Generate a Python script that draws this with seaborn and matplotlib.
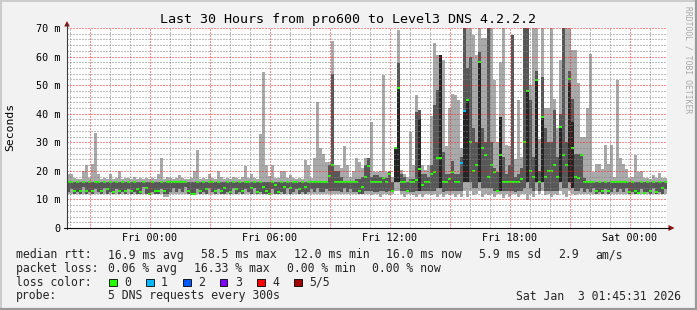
import numpy as np
import pandas as pd
import matplotlib
matplotlib.use("Agg")
import matplotlib.pyplot as plt
import seaborn as sns
from matplotlib.lines import Line2D
from matplotlib.patches import Rectangle, Polygon
from matplotlib.ticker import FixedLocator, MultipleLocator

# ---------------- data (ms), one sample per 9 minutes, starting Thu 19:51 ----------------
start_hours = -4.15      # hours relative to Fri 00:00
step_hours = 0.15

lo = [
12,12,12,12,12,12,12,12,12,12,
12,12,12,12,12,12,12,12,12,12,
12,12,12,12,12,12,12,11.5,12,12,
12,12,11,11,12,12,12,12,12,12,
12,12,12,12,12,12,12,12,12,12,
12,12,12,12,12,12,12,12,12,12,
12,12,12,12,12,12,12,12,12,12,
12,12,12,12,12,12,12,12,12,12,
12,12,12,12,12,12,12,12,12,12,
12,12,12,12,12,12,12,12,12,12,
12,11.5,12,12,11,12,12,11.5,12,13,
13,12,11,12,12,11.5,11,12,11,12,
12,11.5,12,11,12,11,12,11.5,12,11,
12,11,13,10.7,13,11.5,12,13,11,12,
11.5,12,11,12,12,10.5,12,11,12,12,
11,12,12,9.8,12,11,13,12,13,11.5,
12,11,12,11.5,13,12,11,13,12,11.5,
12,12,12,12,12,12,12,12,12,12,
12,12,12,12,12,12,12,12,12,12,
12,12,12,12,12,12,12,12,12,12,
]
q1 = [
12.7,13.5,12,12.7,12,14.5,12,12.7,12,13.5,
12.7,12,14,12,12.7,12,13.5,12,12.7,12,
13.5,12,12.7,12,12,14.5,12,12,12.7,12,
12,13.5,12,12,12.7,14,12.7,13.5,12.7,14.5,
12,12,12,13.5,12,12.7,12,14,12.7,12,
13.5,12,12,12.7,12,14,12,12.7,12,13.5,
12.7,12,14,12,12.7,12,12,12,13.5,12,
12,12.7,12,14,12,12.7,13.5,12,12.7,12,
12.7,13.5,12.7,14,12.7,12.7,13.5,13,13,13,
13,12.7,14,12.7,13.5,12.7,12.7,12,12,13,
13,13,12.7,12.7,13,13,12.7,13,12.7,16,
16,13,13,12.7,12.7,12.7,13,13,13,13,
13,13,13,14,14,12.7,13,13,13,13,
13,13,16,16,16,14,14,16,14,14,
14,14,13,12.7,13,13,13,13,13,12.7,
13,13,14,16,14,13,16,13,16,13,
13,13,13,13,16,14,14,16,14,13,
13,14,12.7,13.5,12.7,14,12,12.7,12,13.5,
12,12.7,14,12.7,13.5,12.7,14,12,12.7,12,
12,13.5,12,12.7,12,14,12,12.7,12,13.5,
]
med = [
16,16,13,16,13,16,13,16,13,16,
16,13,16,13.5,16,12.5,16,13,16,13,
16,13,16,13.5,12.5,16,14,12,16,13,
13,16,13,16,16,16,16,16,16,16,
13,12,12,16,13,16,13.5,16,16,13,
16,13,14,16,12.5,16,13.5,16,13,16,
16,14,16,12.5,16,14.5,13,12,16,15,
12.7,16,14.5,16,14,16,16,13.5,16,14.5,
16,16,16,16,16,16,16,18.3,22,16,
16,16,16,16,16,16,16,13,14.5,18,
21.6,16,16,16,16,17.5,16,18.9,13,27.9,
48.9,16,16,13,16,16,16.8,20.6,15,16,
16,19,19.7,24.4,24.4,16,16,17,19.7,16,
16,22.9,41,44.8,30,20,22,58.2,27.9,25.5,
18,22,19.7,13,25.5,16,16,16,16,16,
16,17,30,48,20,18,51.8,16,39,18,
20,20,22,18,35.5,25.5,22,52,27.9,18,
17.5,25.5,16,16,16,16,13,16,13,16,
13,16,16,16,16,16,16,12.5,16,13,
12.3,16,12.3,16,13,16,12.7,16,14,16,
]
q3 = [
16,16,16,16,16,16,16,16,16,16,
16,16,16,16,16,16,16,16,16,16,
16,16,16,16,16,16,16,16,16,16,
16,16,16,16,16,16,16,16,16,16,
16,16,16,16,16,16,16,16,16,16,
16,16,16,16,16,16,16,16,16,16,
16,16,16,16,16,16,16,16,16,16,
16,16,16,16,16,16,16,16,16,16,
16,16,16,16,16,16,16,22,54,20,
20,18,16,16,16,16,17,17,18,22,
24.6,18,18.5,18.5,18,18,17.5,19.7,16,28.5,
57.6,19,18,16,17,17,40.5,41.3,19,19,
18,22,43,48.3,60.5,26.7,19,19,23.3,19,
19,25,75,56,60,35,30,61.7,35,30,
75,30,21,19.7,39,25,19,22,67.5,18,
19,21,75,75,44.8,25,55,20,53,35,
30,30,41.3,25,40,75,30,55,45,26,
26,26,17.5,16,16,16,16,16,16,16,
16,16,16,16,16,16,16,16,16,16,
16,16,16,16,16,16,16,16,16,16,
]
hi = [
19,19,17.5,17,17,20,22,17.5,22.5,33.4,
19,17,17.5,17,19,17,17.5,20,17,17.5,
17.5,17,18,17,17.5,17,17.5,17,17.5,17,
19,24.4,17,18,17.5,17,17.5,18.5,17.5,17,
17,17.5,20,27.3,17,17.5,17,19,17.5,17,
20,18,17,17.5,17,18,17.5,17,18,21.8,
17.5,19,17.5,17,33,54.7,22,18.3,22,17.5,
17.5,20,20,17.5,18.5,17.5,17,17.5,17,23.8,
22,17.5,24.4,44,27.9,26,23,23,65.5,22,
22,21,28.8,22,18,20,24.6,23,21,24.6,
24.6,37,19.7,19.7,20,53.5,19.7,20,18,28.5,
69.3,20.4,19,18,33.5,22,46.5,41.3,22,20.4,
22,39.3,64.6,60.5,60.5,58.8,28.8,41.9,47,46.5,
44.8,28,75,75,70.5,67.5,60.6,75,66.4,66.4,
75,70,51.8,30,58,75,29,28.6,67.5,24,
44.8,25,75,75,50,75,75,31,75,41.9,
42,75,45,35,58.8,75,75,75,62.3,62.3,
50.8,32,32,41.9,60.8,19.7,22.3,22.3,20.8,29,
22.3,29,18,51.8,24.4,22.3,20.8,17.5,18,25.5,
19.7,20,17.5,17.5,17,18.5,17.5,19.2,17.5,17.5,
]
# darkest core of the smoke (from 2nd ping up to this value) for a few samples
core_idx = [109, 110, 117, 124, 132, 133, 137, 144, 153, 156, 158, 164, 167, 168]
core_top = [27.9, 48.9, 38, 60.5, 41, 44.8, 58.2, 39, 48, 51.8, 39, 35.5, 50.6, 37.2]
# samples with packet loss (count of lost pings)
loss_idx = [131, 132]
loss_val = [1, 1]

xtick_hours = [0, 6, 12, 18, 24]
xtick_labels = ["Fri 00:00", "Fri 06:00", "Fri 12:00", "Fri 18:00", "Sat 00:00"]
ytick_vals = [0, 10, 20, 30, 40, 50, 60, 70]
ytick_labels = ["0", "10 m", "20 m", "30 m", "40 m", "50 m", "60 m", "70 m"]

loss_names = ["0", "1", "2", "3", "4", "5/5"]
loss_colors = ["#26ff00", "#00b8ff", "#0059ff", "#7e00ff", "#ff0000", "#a10000"]

title = "Last 30 Hours from pro600 to Level3 DNS 4.2.2.2"
stats_rtt = ["median rtt:", "16.9 ms avg", "58.5 ms max", "12.0 ms min", "16.0 ms now",
             "5.9 ms sd", "2.9", "am/s"]
stats_loss = ["packet loss:", "0.06 % avg", "16.33 % max", "0.00 % min", "0.00 % now"]
probe_text = ["probe:", "5 DNS requests every 300s"]
stamp = "Sat Jan  3 01:45:31 2026"

for name, arr in [("lo", lo), ("q1", q1), ("med", med), ("q3", q3), ("hi", hi)]:
    if len(arr) != 200:
        raise SystemExit(f"{name} has {len(arr)}")

# ---------------- figure ----------------
W, H = 697, 310
sns.set_theme(style="white")
plt.rcParams["font.family"] = ["DejaVu Sans Mono", "DejaVu Sans"]
plt.rcParams["lines.scale_dashes"] = True

fig = plt.figure(figsize=(W / 100, H / 100), dpi=100, facecolor="#f2f2f2")

def fx(px):
    return px / W

def fy(py):
    return 1 - py / H

ax = fig.add_axes([fx(67), fy(228), 600 / W, 200 / H])
ax.set_facecolor("white")

n = len(med)
edges = start_hours + step_hours * np.arange(n + 1)
centers = edges[:-1] + step_hours / 2

def ext(a):
    a = np.asarray(a, float)
    return np.append(a, a[-1])

ax.fill_between(edges, ext(lo), ext(hi), step="post", color="#a9a9a9",
                linewidth=0, antialiased=False, zorder=1)
ax.fill_between(edges, ext(q1), ext(q3), step="post", color="#575757",
                linewidth=0, antialiased=False, zorder=1.1)
q1a = np.asarray(q1, float)
ct = np.asarray(core_top, float)
ax.bar(edges[core_idx], ct - q1a[core_idx], bottom=q1a[core_idx], width=step_hours,
       align="edge", color="#252525", linewidth=0, antialiased=False, zorder=1.2)

loss = np.zeros(n, dtype=int)
loss[loss_idx] = loss_val
df = pd.DataFrame({"t": centers, "median": med, "loss": loss})
pal = {i: loss_colors[i] for i in sorted(df["loss"].unique())}
sns.scatterplot(data=df, x="t", y="median", hue="loss", palette=pal, marker="_",
                s=6.2, linewidth=1.5, legend=False, ax=ax, zorder=2)
ax.set_xlabel("")
ax.set_ylabel("")

ax.set_xlim(edges[0], edges[-1])
ax.set_ylim(0, 70)

# grid (drawn over the smoke, semi transparent like rrdtool)
ax.xaxis.set_major_locator(FixedLocator(list(range(-3, 25, 3))))
ax.xaxis.set_minor_locator(MultipleLocator(1))
ax.yaxis.set_major_locator(FixedLocator(ytick_vals))
ax.yaxis.set_minor_locator(MultipleLocator(2))
maj_labels = []
for t in range(-3, 25, 3):
    maj_labels.append(xtick_labels[xtick_hours.index(t)] if t in xtick_hours else "")
ax.set_xticklabels(maj_labels)
ax.set_yticklabels(ytick_labels)
ax.set_axisbelow(False)
ax.grid(which="minor", color=(0.5, 0.5, 0.5, 0.2), linestyle=(0, (1, 2)), linewidth=0.72)
ax.grid(which="major", color=(1.0, 0.1, 0.1, 0.26), linestyle=(0, (1, 2)), linewidth=0.72)
ax.tick_params(axis="both", which="both", length=0, labelsize=7.3, colors="#000000")
ax.tick_params(axis="x", pad=3.6)
ax.tick_params(axis="y", pad=4.8)
for s in ax.spines.values():
    s.set_visible(False)

# axes lines with arrows
axis_col = "#3c3c3c"
arrow_col = "#8b1010"
fig.add_artist(Line2D([fx(67), fx(67)], [fy(229), fy(24)], color=axis_col, lw=0.8))
fig.add_artist(Line2D([fx(64), fx(669)], [fy(228), fy(228)], color="#101010", lw=0.8))
fig.add_artist(Polygon([[fx(67), fy(21)], [fx(64.2), fy(26.5)], [fx(69.8), fy(26.5)]],
                       closed=True, color=arrow_col, lw=0))
fig.add_artist(Polygon([[fx(674.5), fy(228)], [fx(668.5), fy(225)], [fx(668.5), fy(231)]],
                       closed=True, color=arrow_col, lw=0))

# title, y label, watermark
fig.text(fx(347.5), fy(19), title, ha="center", va="center", fontsize=9.6, color="black")
fig.text(fx(10.5), fy(127), "Seconds", ha="center", va="center", rotation=90,
         fontsize=8.2, color="black")
fig.text(fx(688), fy(60), "RRDTOOL / TOBI OETIKER", ha="center", va="center",
         rotation=270, fontsize=5.8, color="#a8a8a8")

# legend / statistics block
fs = 8.3
rtt_x = [16, 108, 200.8, 293.6, 386.4, 479.2, 558, 595]
for s, x in zip(stats_rtt, rtt_x):
    fig.text(fx(x), fy(255), s, ha="left", va="center", fontsize=fs)
loss_x = [16, 108, 193.8, 286.6, 372.4]
for s, x in zip(stats_loss, loss_x):
    fig.text(fx(x), fy(268.5), s, ha="left", va="center", fontsize=fs)
fig.text(fx(16), fy(282), "loss color:", ha="left", va="center", fontsize=fs)
box_x = [109, 146, 183, 220, 257, 294]
for name, col, bx in zip(loss_names, loss_colors, box_x):
    fig.add_artist(Rectangle((fx(bx), fy(286)), 7.5 / W, 7.5 / H, facecolor=col,
                             edgecolor="black", linewidth=0.6))
    fig.text(fx(bx + 15), fy(282), name, ha="left", va="center", fontsize=fs)
fig.text(fx(16), fy(296), probe_text[0], ha="left", va="center", fontsize=fs)
fig.text(fx(108), fy(296), probe_text[1], ha="left", va="center", fontsize=fs)
fig.text(fx(681), fy(296), stamp, ha="right", va="center", fontsize=fs)

# outer frame (rrdtool shade)
fig.add_artist(Line2D([0, 1], [1 - 0.5 / H, 1 - 0.5 / H], color="#cbcbcb", lw=1.4))
fig.add_artist(Line2D([0.5 / W, 0.5 / W], [0, 1], color="#cbcbcb", lw=1.4))
fig.add_artist(Line2D([0, 1], [1 / H, 1 / H], color="#999999", lw=1.6))
fig.add_artist(Line2D([1 - 1 / W, 1 - 1 / W], [0, 1], color="#999999", lw=1.6))

fig.savefig("out.png", dpi=100, facecolor=fig.get_facecolor())
